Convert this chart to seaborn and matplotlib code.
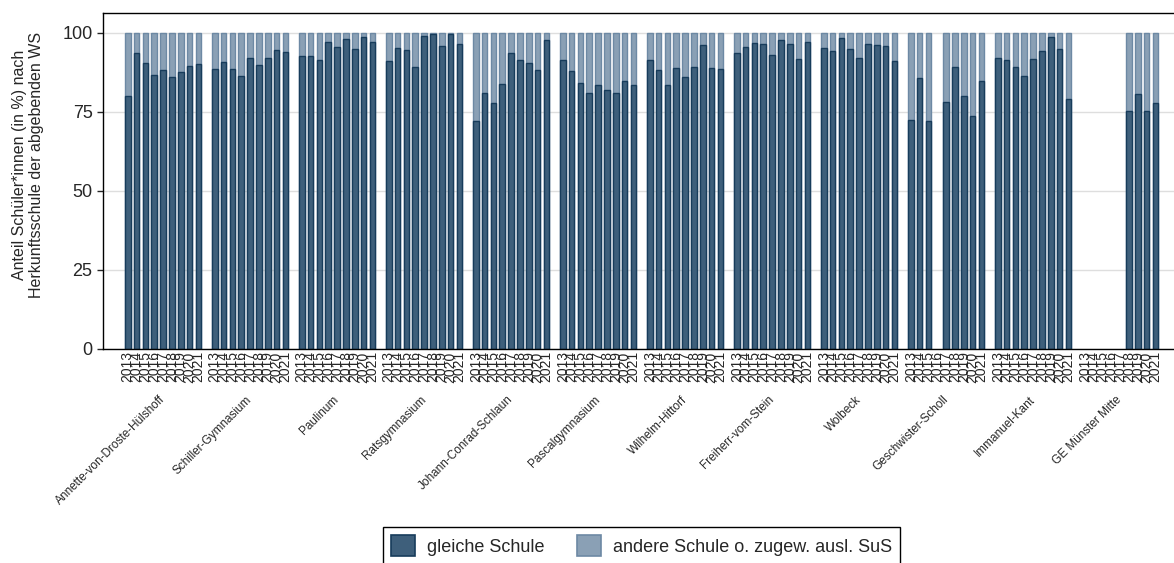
import numpy as np
import pandas as pd
import matplotlib
matplotlib.use('Agg')
import matplotlib.pyplot as plt
from matplotlib.patches import Patch
import seaborn as sns


years = [2013, 2014, 2015, 2016, 2017, 2018, 2019, 2020, 2021]

schools = ['Annette-von-Droste-Hülshoff', 'Schiller-Gymnasium', 'Paulinum',
           'Ratsgymnasium', 'Johann-Conrad-Schlaun', 'Pascalgymnasium',
           'Wilhelm-Hittorf', 'Freiherr-vom-Stein', 'Wolbeck',
           'Geschwister-Scholl', 'Immanuel-Kant', 'GE Münster Mitte']

# Anteil "gleiche Schule" in % (Rest bis 100 = andere Schule)
annette = [80.0, 93.6, 90.5, 86.8, 88.2, 86.0, 87.5, 89.5, 90.3]
schiller = [88.6, 90.8, 88.6, 86.2, 92.1, 89.8, 92.1, 94.6, 94.0]
paulinum = [92.7, 92.7, 91.4, 97.1, 95.6, 98.1, 94.9, 98.7, 97.1]
rats = [91.1, 95.2, 94.6, 89.2, 99.0, 99.7, 96.0, 99.8, 96.5]
schlaun = [72.1, 81.0, 77.8, 83.8, 93.6, 91.4, 90.5, 88.2, 97.8]
pascal = [91.4, 87.9, 84.1, 81.0, 83.5, 81.9, 80.9, 84.7, 83.5]
hittorf = [91.4, 88.2, 83.5, 88.9, 86.0, 89.2, 96.2, 88.9, 88.6]
stein = [93.6, 95.6, 96.8, 96.5, 93.0, 97.8, 96.5, 91.7, 97.1]
wolbeck = [95.2, 94.3, 98.4, 94.9, 92.1, 96.5, 96.2, 95.9, 91.1]
scholl = [72.5, 85.7, 72.1, None, 78.1, 89.2, 80.0, 73.6, 84.7]
kant = [92.1, 91.4, 89.2, 86.3, 91.7, 94.3, 98.7, 94.9, 79.0]
ge_mitte = [None, None, None, None, None, 75.3, 80.6, 75.3, 77.8]

shares = [annette, schiller, paulinum, rats, schlaun, pascal,
          hittorf, stein, wolbeck, scholl, kant, ge_mitte]

dark = '#3e5f7b'
dark_edge = '#173c5b'
light = '#8aa0b5'
light_edge = '#6d89a4'

group_step = 9.85

rows = []
for g, (school, vals) in enumerate(zip(schools, shares)):
    for i, (yr, v) in enumerate(zip(years, vals)):
        rows.append(dict(school=school, year=yr, pos=g * group_step + i,
                         share=np.nan if v is None else v,
                         total=np.nan if v is None else 100.0))
df = pd.DataFrame(rows)
bars = df.dropna(subset=['share'])

sns.set_style('white')
plt.rcParams['font.family'] = ['Liberation Sans', 'DejaVu Sans']

W, H = 1174, 563
fig = plt.figure(figsize=(W / 100, H / 100), dpi=100)
ax = fig.add_axes([103 / W, 1 - 348.5 / H, (W - 103) / W, (348.5 - 12.7) / H])

sns.barplot(data=bars, x='pos', y='total', native_scale=True, width=0.64,
            color=light, edgecolor=light_edge, linewidth=1, saturation=1,
            errorbar=None, ax=ax)
sns.barplot(data=bars, x='pos', y='share', native_scale=True, width=0.64,
            color=dark, edgecolor=dark_edge, linewidth=1, saturation=1,
            errorbar=None, ax=ax)

ax.set_xlim(-2.8, 118.45)
ax.set_ylim(0, 106.4)
ax.set_yticks([0, 25, 50, 75, 100])
ax.yaxis.grid(True, color='#dedede', linewidth=1)
ax.set_axisbelow(True)
ax.tick_params(axis='y', length=4.5, width=1, labelsize=13, pad=3, left=True)

ax.set_xticks(df['pos'])
ax.set_xticklabels([str(y) for y in df['year']], rotation=90, fontsize=10)
ax.tick_params(axis='x', length=0, pad=2)
ax.set_xlabel('')
ax.set_ylabel('Anteil Schüler*innen (in %) nach\nHerkunftsschule der abgebenden WS',
              fontsize=11.5, linespacing=1.15)
ax.yaxis.set_label_coords(-0.055, 0.546)

for side in ['left', 'top', 'bottom']:
    ax.spines[side].set_color('black')
    ax.spines[side].set_linewidth(1)
ax.spines['right'].set_visible(False)

for g, school in enumerate(schools):
    ax.text(g * group_step + 4, -0.147, school, transform=ax.get_xaxis_transform(),
            rotation=45, ha='right', va='center', rotation_mode='anchor',
            fontsize=8.5)

handles = [Patch(facecolor=dark, edgecolor=dark_edge, linewidth=1.2, label='gleiche Schule'),
           Patch(facecolor=light, edgecolor=light_edge, linewidth=1.2,
                 label='andere Schule o. zugew. ausl. SuS')]
leg = fig.legend(handles=handles, loc='upper center',
                 bbox_to_anchor=(641.5 / W, 1 - 527 / H), ncol=2,
                 frameon=True, fancybox=False, edgecolor='black', framealpha=1,
                 fontsize=13, handlelength=1.33, handleheight=1.4,
                 handletextpad=0.67, columnspacing=1.77, borderpad=0.45,
                 borderaxespad=0)
leg.get_frame().set_linewidth(1)

fig.savefig('out.png', dpi=100)
